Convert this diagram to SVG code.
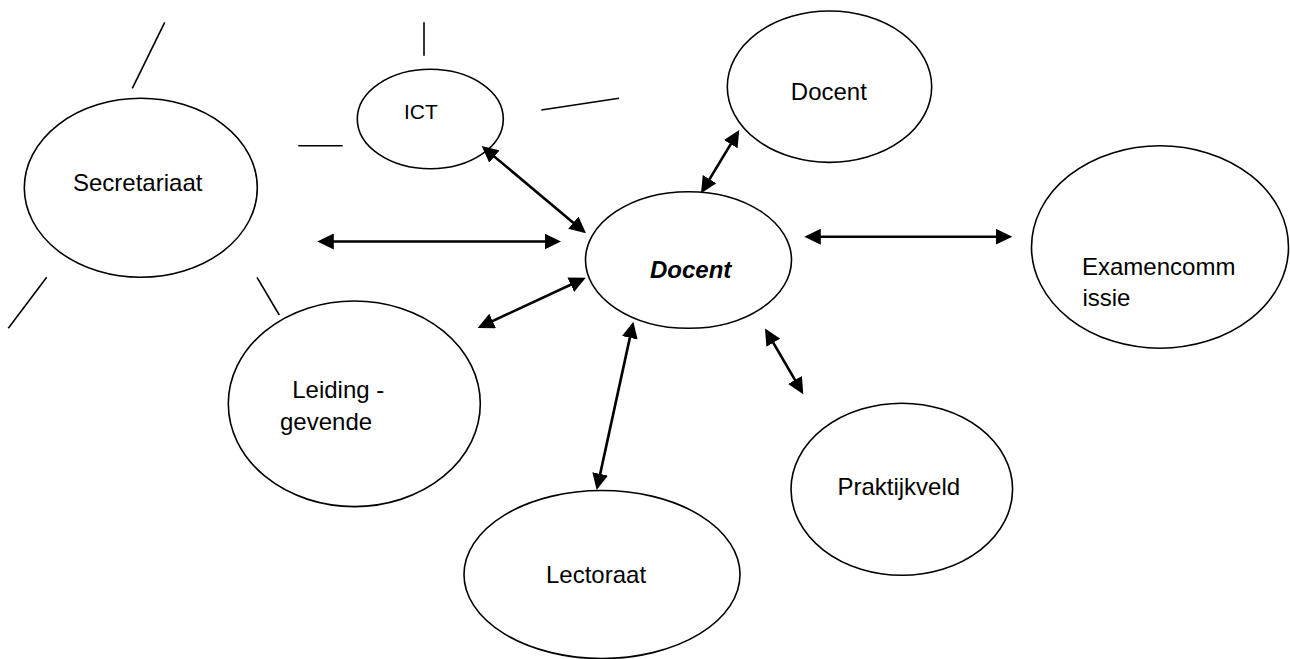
<svg xmlns="http://www.w3.org/2000/svg" width="1290" height="659" viewBox="0 0 1290 659">
  <style>
    .node { fill: #ffffff; stroke: #000000; stroke-width: 1.6; }
    .label { font-family: "Liberation Sans", Arial, sans-serif; font-size: 24px; fill: #000000; }
    .small { font-size: 21px; }
    .main { font-weight: bold; font-style: italic; }
    .tick { stroke: #000000; stroke-width: 1.6; fill: none; }
    .link { stroke: #000000; stroke-width: 2.6; fill: none; marker-start: url(#head); marker-end: url(#head); }
  </style>
  <defs>
    <!-- filled triangular arrowhead, tip sits 3px past the line end -->
    <marker id="head" markerUnits="userSpaceOnUse" markerWidth="17" markerHeight="16" viewBox="0 0 17 16" refX="13.5" refY="8" orient="auto-start-reverse">
      <path d="M0,0 L16.5,8 L0,16 Z" fill="#000000"/>
    </marker>
  </defs>
  <rect width="1290" height="659" fill="#ffffff"/>

  <!-- loose stroke marks around Secretariaat and ICT -->
  <g id="marks">
    <line class="tick" x1="164.7" y1="22.3" x2="132.3" y2="88.3"/>
    <line class="tick" x1="424" y1="22.3" x2="424" y2="55.7"/>
    <line class="tick" x1="298.3" y1="145.7" x2="342.7" y2="145.7"/>
    <line class="tick" x1="541.3" y1="110" x2="619" y2="98.3"/>
    <line class="tick" x1="46.7" y1="277.3" x2="8.3" y2="328.3"/>
    <line class="tick" x1="257" y1="277.3" x2="279.3" y2="315"/>
  </g>

  <g id="node-secretariaat">
    <ellipse class="node" cx="140.8" cy="187.8" rx="116.5" ry="89.5"/>
    <text class="label" x="73" y="190.7">Secretariaat</text>
  </g>

  <g id="node-ict">
    <ellipse class="node" cx="430.3" cy="119" rx="73" ry="49.7"/>
    <text class="label small" x="404" y="119">ICT</text>
  </g>

  <g id="node-docent-top">
    <ellipse class="node" cx="829.5" cy="86.7" rx="102.2" ry="75.7"/>
    <text class="label" x="790.8" y="100">Docent</text>
  </g>

  <g id="node-docent">
    <ellipse class="node" cx="688.5" cy="260" rx="103" ry="68.3"/>
    <text class="label main" x="650" y="277.7">Docent</text>
  </g>

  <g id="node-examencommissie">
    <ellipse class="node" cx="1160" cy="247" rx="128.5" ry="101.2"/>
    <text class="label" x="1082" y="275">Examencomm</text>
    <text class="label" x="1082.4" y="306">issie</text>
  </g>

  <g id="node-leidinggevende">
    <ellipse class="node" cx="354.3" cy="403.8" rx="126" ry="102.8"/>
    <text class="label" x="292.2" y="398.3">Leiding -</text>
    <text class="label" x="280" y="430">gevende</text>
  </g>

  <g id="node-lectoraat">
    <ellipse class="node" cx="602" cy="574.5" rx="138" ry="84"/>
    <text class="label" x="546" y="582.7">Lectoraat</text>
  </g>

  <g id="node-praktijkveld">
    <ellipse class="node" cx="901.8" cy="489.3" rx="110.8" ry="86"/>
    <text class="label" x="837.4" y="495">Praktijkveld</text>
  </g>

  <!-- two-way connectors -->
  <g id="connectors">
    <line class="link" x1="484" y1="147.9" x2="583.7" y2="231.4"/>
    <line class="link" x1="320.3" y1="241.5" x2="558" y2="241.5"/>
    <line class="link" x1="480.4" y1="326.7" x2="583" y2="279"/>
    <line class="link" x1="702.6" y1="190.7" x2="737.7" y2="132.6"/>
    <line class="link" x1="807.3" y1="236.7" x2="1009.3" y2="236.7"/>
    <line class="link" x1="632.7" y1="324.6" x2="597.3" y2="487.1"/>
    <line class="link" x1="766.5" y1="331.1" x2="801.8" y2="391.6"/>
  </g>
</svg>
